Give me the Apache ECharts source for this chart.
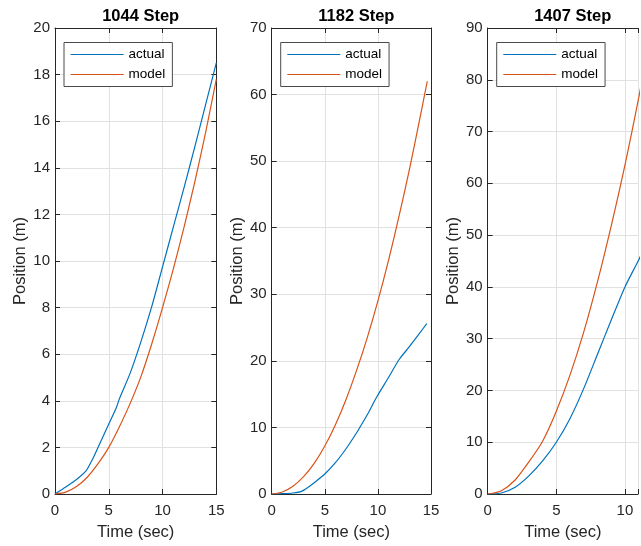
<!DOCTYPE html>
<html>
<head>
<meta charset="utf-8">
<script src="https://cdn.jsdelivr.net/npm/echarts@6/dist/echarts.min.js"></script>
<style>
  html, body { margin: 0; padding: 0; background: #fff; }
  #chart { width: 641px; height: 546px; }
</style>
</head>
<body>
<div id="chart"></div>
<script>
// Step-response trials: measured ("actual") vs. simulated ("model") position.
const panelTitles = ['1044 Step', '1182 Step', '1407 Step'];
const seriesNames = ['actual', 'model'];
const xMax = [15, 15, 10.95];
const yMax = [20, 70, 90];
const yStep = [2, 10, 10];
const xStep = 5;

// 1044 Step
const tActual1 = [0, 1, 2, 2.9, 3.5, 4, 5, 5.7, 6, 7, 8, 9, 10, 11, 12, 13, 14, 15];
const actual1  = [0, 0.3, 0.62, 1.0, 1.5, 2.0, 3.0, 3.7, 4.1, 5.2, 6.55, 8.05, 9.75, 11.45, 13.15, 14.9, 16.7, 18.5];
const tModel1  = [0, 1, 2, 3, 4, 5, 6, 7, 8, 9, 10, 11, 12, 13, 14, 15];
const model1   = [0, 0.08, 0.32, 0.72, 1.3, 2.0, 2.9, 3.9, 5.05, 6.45, 8.0, 9.65, 11.45, 13.4, 15.5, 17.8];

// 1182 Step
const tActual2 = [0, 1, 2, 2.8, 3.5, 4, 5, 6, 7, 8, 8.3, 9, 9.9, 11, 12, 13, 14, 14.6];
const actual2  = [0, 0.05, 0.15, 0.4, 1.1, 1.7, 3.0, 4.7, 6.8, 9.2, 10, 11.9, 14.6, 17.5, 20.2, 22.2, 24.3, 25.6];
const tModel2  = [0, 1, 2, 3, 4, 5, 6, 7, 8, 9, 10, 11, 12, 13, 14, 14.65];
const model2   = [0, 0.3, 1.15, 2.6, 4.6, 7.2, 10.4, 14.2, 18.6, 23.5, 29, 35.1, 41.8, 49, 56.8, 62];

// 1407 Step
const tActual3 = [0, 1, 2, 3, 4, 5, 6, 7, 8, 9, 10, 11, 11.5];
const actual3  = [0, 0.2, 1.3, 3.5, 6.4, 10, 14.6, 20.4, 27.0, 33.6, 40, 45.2, 48.0];
const tModel3  = [0, 1, 2, 3, 4, 5, 6, 7, 8, 9, 10, 11, 11.5];
const model3   = [0, 0.64, 2.7, 6.2, 10.2, 16.0, 23, 31.3, 41, 51.8, 63.5, 76.5, 83.5];

const panels = [
  { t: [tActual1, tModel1], y: [actual1, model1] },
  { t: [tActual2, tModel2], y: [actual2, model2] },
  { t: [tActual3, tModel3], y: [actual3, model3] }
];

const FONT = 'Liberation Sans, Arial, Helvetica, sans-serif';
const INK = '#262626';
const COLORS = ['#0072BD', '#D95319'];
// The third panel runs past the right edge of the figure; its box is cut at the border.
const gridBoxes = [
  { left: 55, top: 28, width: 161.3, height: 468.7 },
  { left: 271.7, top: 28, width: 159.3, height: 468.7 },
  { left: 487.7, top: 28, right: 0, height: 468.7 }
];
const panelWidth = [161.3, 159.3, 160];
const showRightEdge = [true, true, false];

const pairs = (xs, ys) => xs.map((x, i) => [x, ys[i]]);
const tickText = v => (Math.abs(v % xStep) < 1e-9 ? String(v) : '');

const grid = [], xAxis = [], yAxis = [], series = [], title = [], legend = [];

gridBoxes.forEach((g, i) => {
  grid.push(Object.assign({ containLabel: false }, g));

  const baseX = {
    type: 'value', gridIndex: i, min: 0, max: xMax[i], interval: xStep,
    axisLine: { show: true, onZero: false, lineStyle: { color: INK, width: 1 } },
    axisTick: { show: true, inside: true, length: 5, lineStyle: { color: INK } }
  };
  xAxis.push(Object.assign({}, baseX, {
    position: 'bottom',
    name: 'Time (sec)', nameLocation: 'middle', nameGap: 30,
    nameTextStyle: { fontFamily: FONT, fontSize: 16.5, color: INK },
    axisLabel: { show: true, margin: 9, fontFamily: FONT, fontSize: 15, color: INK, formatter: tickText },
    splitLine: { show: true, lineStyle: { color: '#e1e1e1', width: 1 } }
  }));
  xAxis.push(Object.assign({}, baseX, {
    position: 'top', axisLabel: { show: false }, splitLine: { show: false }
  }));

  const baseY = {
    type: 'value', gridIndex: i, min: 0, max: yMax[i], interval: yStep[i],
    axisLine: { show: true, onZero: false, lineStyle: { color: INK, width: 1 } },
    axisTick: { show: true, inside: true, length: 5, lineStyle: { color: INK } }
  };
  yAxis.push(Object.assign({}, baseY, {
    position: 'left',
    name: 'Position (m)', nameLocation: 'middle', nameGap: 21.5, nameRotate: 90,
    nameTextStyle: { fontFamily: FONT, fontSize: 16.5, color: INK },
    axisLabel: { show: true, margin: 5, fontFamily: FONT, fontSize: 15, color: INK },
    splitLine: { show: true, lineStyle: { color: '#e1e1e1', width: 1 } }
  }));
  yAxis.push(Object.assign({}, baseY, {
    position: 'right', show: showRightEdge[i],
    axisLabel: { show: false }, splitLine: { show: false }
  }));

  seriesNames.forEach((name, k) => {
    series.push({
      name, type: 'line', xAxisIndex: 2 * i, yAxisIndex: 2 * i,
      data: pairs(panels[i].t[k], panels[i].y[k]),
      smooth: 0.25,
      symbol: 'none', showSymbol: false, clip: true,
      lineStyle: { color: COLORS[k], width: 1.2 },
      itemStyle: { color: COLORS[k] },
      z: 3 + k
    });
  });

  title.push({
    text: panelTitles[i],
    left: g.left + panelWidth[i] / 2, top: 3, textAlign: 'center',
    textStyle: { fontFamily: FONT, fontSize: 16.5, fontWeight: 'bold', color: '#000' }
  });

  legend.push({
    data: seriesNames,
    orient: 'vertical',
    left: g.left + 9, top: 42.5,
    padding: [5, 7, 5, 6],
    itemGap: 6, itemWidth: 53, itemHeight: 14, itemTextGap: 6,
    itemStyle: { opacity: 0 },
    lineStyle: { width: 1.2 },
    backgroundColor: '#fff',
    borderColor: '#4a4a4a', borderWidth: 1,
    selectedMode: false,
    textStyle: { fontFamily: FONT, fontSize: 13.5, color: '#000' }
  });
});

const chart = echarts.init(document.getElementById('chart'), null, { renderer: 'canvas' });
chart.setOption({
  animation: false,
  backgroundColor: '#fff',
  color: COLORS,
  title, legend, grid, xAxis, yAxis, series
});
</script>
</body>
</html>
